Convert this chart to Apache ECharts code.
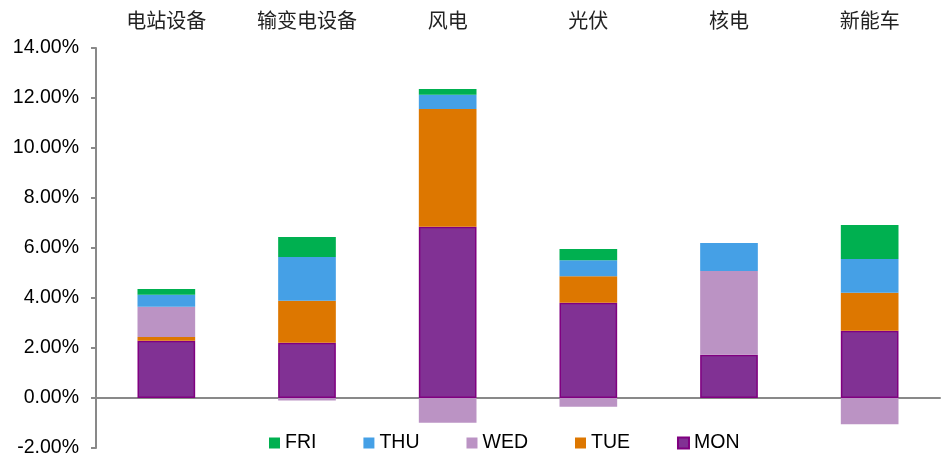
<!DOCTYPE html>
<html>
<head>
<meta charset="utf-8">
<script src="https://cdn.jsdelivr.net/npm/echarts@6/dist/echarts.min.js"></script>
<style>
  html, body { margin: 0; padding: 0; background: #fff; }
  #chart { width: 944px; height: 459px; }
</style>
</head>
<body>
<div id="chart"></div>
<script>
// categories and daily contributions (%)
var categories = ['电站设备', '输变电设备', '风电', '光伏', '核电', '新能车'];
var mon = [2.29, 2.21, 6.85, 3.81, 1.73, 2.69];
var tue = [0.15, 1.68, 4.71, 1.06, 0, 1.52];
var wed = [1.21, -0.10, -0.99, -0.35, 3.35, -1.05];
var thu = [0.48, 1.75, 0.57, 0.64, 1.12, 1.35];
var fri = [0.23, 0.80, 0.23, 0.45, 0, 1.36];

var yMin = -2, yMax = 14, yStep = 2;

var axisGray = '#898989';
var labelFont = '"Liberation Sans", Arial, sans-serif';

function bar(name, data, color, extra) {
    var s = {
        name: name,
        type: 'bar',
        stack: 'day',
        data: data,
        barWidth: '41%',
        itemStyle: { color: color },
        emphasis: { disabled: true }
    };
    if (extra) s.itemStyle = Object.assign(s.itemStyle, extra);
    return s;
}

var chart = echarts.init(document.getElementById('chart'));
chart.setOption({
    animation: false,
    grid: { left: 96, right: 4, top: 48, bottom: 11, containLabel: false },
    legend: {
        data: ['FRI', 'THU', 'WED', 'TUE', 'MON'],
        left: 264,
        bottom: 1,
        itemWidth: 11,
        itemHeight: 11,
        itemGap: 47,
        icon: 'rect',
        textStyle: { fontFamily: labelFont, fontSize: 19.5, color: '#000' }
    },
    xAxis: [{
        type: 'category',
        data: categories,
        position: 'bottom',
        axisLine: { onZero: true, lineStyle: { color: axisGray, width: 2 } },
        axisTick: { inside: true, length: 6, lineStyle: { color: axisGray, width: 2 } },
        axisLabel: { show: false }
    }, {
        type: 'category',
        data: categories,
        position: 'top',
        axisLine: { show: false },
        axisTick: { show: false },
        axisLabel: {
            margin: 18,
            fontFamily: '"Noto Sans CJK SC", sans-serif',
            fontSize: 20,
            color: '#222'
        }
    }],
    yAxis: {
        type: 'value',
        min: yMin,
        max: yMax,
        interval: yStep,
        axisLine: { show: true, lineStyle: { color: axisGray, width: 2 } },
        axisTick: { show: true, length: 5, lineStyle: { color: axisGray, width: 2 } },
        splitLine: { show: false },
        axisLabel: {
            margin: 17,
            fontFamily: labelFont,
            fontSize: 19.5,
            color: '#000',
            formatter: function (v) { return v.toFixed(2) + '%'; }
        }
    },
    series: [
        bar('MON', mon, '#813194', { borderColor: '#800080', borderWidth: 1.5 }),
        bar('TUE', tue, '#DD7700'),
        bar('WED', wed, '#BB93C4'),
        bar('THU', thu, '#45A0E6'),
        bar('FRI', fri, '#00B050')
    ]
});
</script>
</body>
</html>
